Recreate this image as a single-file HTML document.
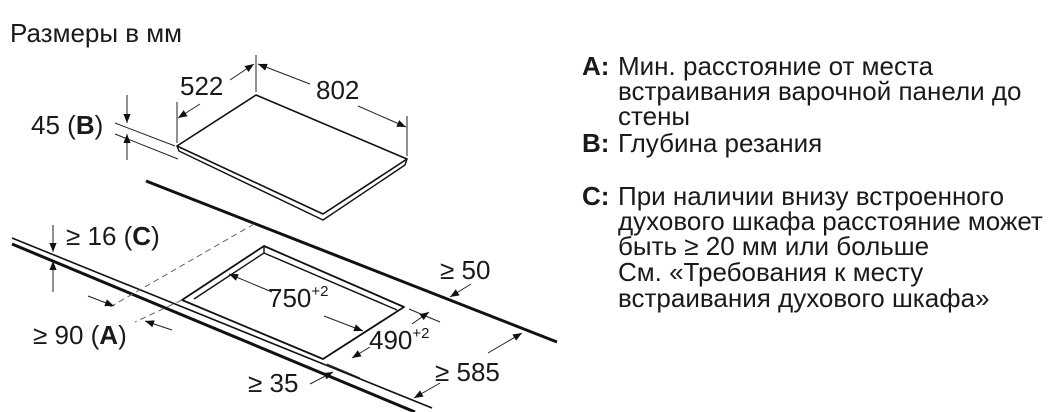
<!DOCTYPE html>
<html><head><meta charset="utf-8"><style>
html,body{margin:0;padding:0;background:#fff;}
svg{display:block;font-family:"Liberation Sans",Arial,sans-serif;}
</style></head><body>
<svg width="1056" height="412" viewBox="0 0 1056 412" xmlns="http://www.w3.org/2000/svg">
<defs>
<marker id="a" viewBox="0 0 10 10" refX="10" refY="5" markerWidth="10" markerHeight="9" orient="auto-start-reverse" markerUnits="userSpaceOnUse"><path d="M0,1 L10,5 L0,9 z" fill="#111"/></marker>
</defs>
<g fill="#1a1a1a" font-size="26">
<text x="10" y="42">Размеры в мм</text>
<text x="180" y="95">522</text>
<text x="316" y="99">802</text>
<text x="31" y="134">45 (<tspan font-weight="bold">B</tspan>)</text>
<text x="66" y="245">≥ 16 (<tspan font-weight="bold">C</tspan>)</text>
<text x="33" y="344">≥ 90 (<tspan font-weight="bold">A</tspan>)</text>
<text x="268" y="307">750<tspan font-size="15" dy="-11">+2</tspan></text>
<text x="369" y="349">490<tspan font-size="15" dy="-11">+2</tspan></text>
<text x="440" y="279">≥ 50</text>
<text x="435" y="381">≥ 585</text>
<text x="248" y="392">≥ 35</text>
</g>
<g fill="#1a1a1a" font-size="26">
<text x="582" y="75" font-weight="bold">A:</text>
<text x="618" y="75">Мин. расстояние от места</text>
<text x="618" y="100">встраивания варочной панели до</text>
<text x="618" y="125">стены</text>
<text x="582" y="152" font-weight="bold">B:</text>
<text x="618" y="152">Глубина резания</text>
<text x="582" y="205" font-weight="bold">C:</text>
<text x="618" y="205">При наличии внизу встроенного</text>
<text x="618" y="230">духового шкафа расстояние может</text>
<text x="618" y="255">быть ≥ 20 мм или больше</text>
<text x="618" y="281">См. «Требования к месту</text>
<text x="618" y="307">встраивания духового шкафа»</text>
</g>
<g stroke="#111" fill="none" stroke-linejoin="round">
<path d="M256,95 L407,159 L323,214 L177,146 Z" stroke-width="1.6"/>
<path d="M177,146 L179,151 L323,220 L405,165 L407,159" stroke-width="1.4"/>
<line x1="146" y1="181" x2="557" y2="342" stroke-width="3"/>
<line x1="12" y1="238" x2="432" y2="408" stroke-width="1.6"/>
<line x1="12" y1="244" x2="415" y2="412" stroke-width="3"/>
<path d="M264,246 L404,307 L323,359 L182,300 Z" stroke-width="1.8"/>
<path d="M264,246 L264,253 L194,299" stroke-width="1.4"/>
<path d="M264,253 L397,310" stroke-width="1.4"/>
<line x1="254" y1="224" x2="110" y2="307" stroke="#666" stroke-width="1" stroke-dasharray="6,4"/>
<line x1="182" y1="300" x2="135" y2="322" stroke="#666" stroke-width="1" stroke-dasharray="6,4"/>
</g>
<g stroke="#222" stroke-width="1" fill="none">
<line x1="177" y1="143" x2="177" y2="102"/>
<line x1="256" y1="55" x2="256" y2="92"/>
<line x1="200" y1="104" x2="178" y2="118" marker-end="url(#a)"/>
<line x1="230" y1="80" x2="254" y2="64" marker-end="url(#a)"/>
<line x1="407" y1="116" x2="407" y2="156"/>
<line x1="310" y1="84" x2="258" y2="64" marker-end="url(#a)"/>
<line x1="358" y1="106" x2="406" y2="127" marker-end="url(#a)"/>
<line x1="115" y1="123" x2="175" y2="146"/>
<line x1="115" y1="134" x2="178" y2="159"/>
<line x1="127" y1="95" x2="127" y2="123" marker-end="url(#a)"/>
<line x1="127" y1="160" x2="127" y2="134" marker-end="url(#a)"/>
<line x1="53" y1="225" x2="53" y2="252" marker-end="url(#a)"/>
<line x1="53" y1="292" x2="53" y2="261" marker-end="url(#a)"/>
<line x1="88" y1="296" x2="114" y2="306" marker-end="url(#a)"/>
<line x1="172" y1="330" x2="145" y2="321" marker-end="url(#a)"/>
<line x1="272" y1="292" x2="229" y2="274" marker-end="url(#a)"/>
<line x1="324" y1="316" x2="363" y2="331" marker-end="url(#a)"/>
<line x1="409" y1="309" x2="440" y2="322"/>
<line x1="327" y1="364" x2="360" y2="378"/>
<line x1="412" y1="324" x2="429" y2="312" marker-end="url(#a)"/>
<line x1="370" y1="347" x2="352" y2="358" marker-end="url(#a)"/>
<line x1="471" y1="284" x2="450" y2="297" marker-end="url(#a)"/>
<line x1="488" y1="353" x2="522" y2="333" marker-end="url(#a)"/>
<line x1="440" y1="383" x2="414" y2="398" marker-end="url(#a)"/>
<line x1="310" y1="384" x2="333" y2="372" marker-end="url(#a)"/>
</g>
</svg>
</body></html>
